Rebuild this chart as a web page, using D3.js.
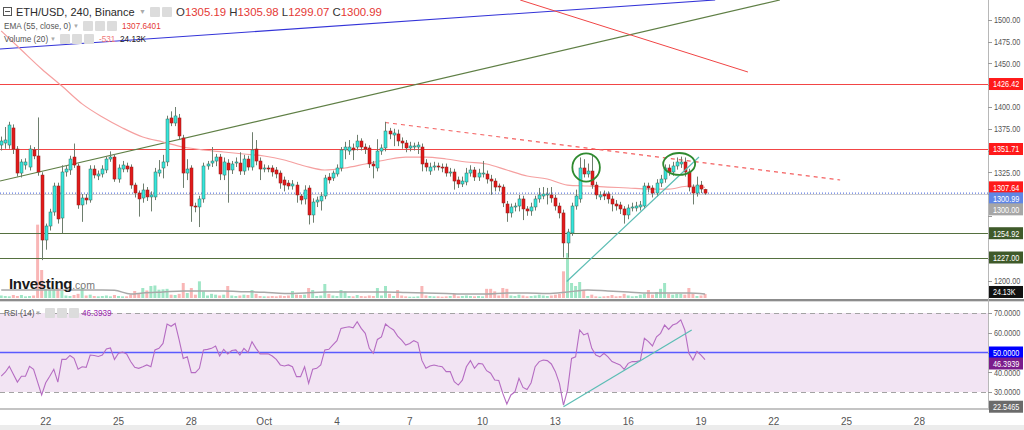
<!DOCTYPE html>
<html><head><meta charset="utf-8">
<script src="https://cdn.jsdelivr.net/npm/d3@7"></script>
<style>body{margin:0;background:#fff;}svg{display:block;font-family:"Liberation Sans",Arial,sans-serif;}</style>
</head><body><svg id="c" width="1024" height="430"></svg>
<script>
// ---------- DATA ----------
const firstCandle = "2018-09-20T04:00:00Z"; // 240-minute candles
const opens = [1356.3,1358.6,1356.3,1375.9,1351.7,1324.1,1333.3,1331.0,1350.6,1343.7,
1321.8,1247.1,1263.2,1279.3,1309.2,1272.4,1325.3,1327.6,1342.5,1332.2,
1287.4,1295.4,1293.1,1328.7,1320.7,1323.0,1327.6,1340.2,1342.5,1317.2,
1328.7,1332.2,1331.0,1310.3,1301.1,1295.4,1304.6,1296.6,1296.6,1324.1,
1329.9,1336.8,1387.4,1381.6,1387.4,1364.4,1324.1,1329.9,1286.2,1285.1,
1294.3,1332.2,1335.6,1337.9,1342.5,1321.8,1335.6,1327.6,1335.6,1335.6,
1326.4,1340.2,1331.0,1351.7,1337.9,1328.7,1329.9,1329.9,1327.6,1324.1,
1316.1,1312.6,1309.2,1310.3,1297.7,1294.3,1306.9,1275.9,1290.8,1292.0,
1297.7,1319.5,1318.4,1323.0,1329.9,1350.6,1349.4,1352.9,1354.0,1360.9,
1354.0,1352.9,1334.5,1329.9,1349.4,1352.9,1372.4,1367.8,1369.0,1360.9,
1358.6,1352.9,1354.0,1354.0,1354.0,1335.6,1326.4,1331.0,1332.2,1331.0,
1331.0,1324.1,1325.3,1316.1,1311.5,1313.8,1324.1,1327.6,1319.5,1323.0,
1323.0,1317.2,1314.9,1309.2,1308.0,1288.5,1278.2,1285.1,1286.2,1294.3,
1282.8,1280.5,1285.1,1294.3,1297.7,1298.9,1298.9,1295.4,1286.2,1278.2,
1243.7,1255.2,1286.2,1294.3,1329.9,1323.0,1326.4,1310.3,1296.6,1300.0,
1300.0,1294.3,1288.5,1287.4,1282.8,1275.9,1283.9,1283.9,1285.1,1286.2,
1309.2,1306.9,1301.1,1312.6,1317.2,1329.9,1325.3,1332.2,1334.5,1336.8,
1325.3,1308.0,1301.1,1310.3,1305.19];
const highs = [1366,1377,1383,1380,1355,1340,1341,1356,1354,1388,
1325,1266,1283,1313,1313,1333,1333,1344,1358,1335,
1300,1300,1333,1333,1327,1333,1343,1349,1346,1334,
1338,1336,1334,1313,1304,1312,1308,1303,1330,1339,
1345,1390,1395,1400,1392,1368,1340,1333,1290,1298,
1336,1338,1354,1346,1346,1342,1340,1338,1342,1348,
1345,1344,1371,1362,1342,1334,1333,1333,1331,1327,
1320,1316,1316,1314,1300,1310,1310,1295,1297,1302,
1322,1324,1327,1334,1354,1360,1362,1358,1368,1364,
1358,1356,1338,1363,1357,1383,1376,1375,1374,1365,
1362,1360,1359,1360,1358,1340,1336,1337,1336,1335,
1335,1330,1329,1320,1320,1330,1333,1331,1329,1338,
1327,1322,1318,1312,1311,1292,1289,1290,1299,1298,
1286,1290,1298,1307,1308,1307,1308,1299,1290,1282,
1260,1290,1305,1342,1340,1335,1344,1314,1303,1304,
1303,1298,1293,1291,1286,1288,1290,1291,1292,1313,
1313,1310,1317,1322,1334,1334,1337,1342,1343,1342,
1329,1311,1320,1315,1305.98];
const lows = [1350,1352,1352,1346,1320,1319,1328,1327,1340,1321,
1224,1236,1258,1275,1266,1255,1320,1322,1330,1283,
1268,1288,1290,1318,1316,1319,1324,1337,1314,1313,
1325,1325,1306,1296,1274,1290,1292,1280,1293,1320,
1318,1332,1378,1378,1362,1307,1316,1268,1279,1262,
1290,1328,1331,1332,1316,1316,1290,1323,1331,1322,
1322,1327,1327,1333,1316,1325,1325,1320,1318,1306,
1303,1305,1305,1290,1288,1288,1265,1267,1285,1281,
1294,1312,1315,1320,1326,1340,1345,1339,1350,1350,
1346,1330,1318,1326,1345,1349,1363,1355,1355,1352,
1348,1349,1350,1346,1326,1326,1322,1327,1327,1325,
1320,1320,1305,1307,1308,1310,1320,1315,1315,1319,
1312,1299,1303,1303,1285,1268,1273,1280,1280,1270,
1275,1275,1281,1290,1294,1288,1290,1281,1272,1227,
1227,1252,1282,1290,1319,1319,1306,1294,1293,1293,
1289,1280,1281,1277,1266,1271,1280,1280,1281,1283,
1302,1296,1297,1308,1313,1321,1321,1328,1330,1320,
1303,1288,1297,1301,1299.07];
const closes = [1360.9,1362.1,1379.3,1351.7,1324.1,1336.8,1336.8,1351.7,1343.7,1325.3,
1247.1,1263.2,1279.3,1309.2,1271.3,1325.3,1328.7,1340.2,1333.3,1287.4,
1295.4,1293.1,1328.7,1321.8,1323.0,1328.7,1340.2,1342.5,1317.2,1329.9,
1333.3,1328.7,1310.3,1301.1,1294.3,1304.6,1296.6,1298.9,1325.3,1327.6,
1336.8,1386.2,1381.6,1389.7,1366.7,1324.1,1328.7,1286.2,1285.1,1294.3,
1332.2,1334.5,1337.9,1342.5,1323.0,1336.8,1327.6,1334.5,1336.8,1326.4,
1340.2,1331.0,1350.6,1337.9,1328.7,1329.9,1328.7,1325.3,1323.0,1312.6,
1310.3,1309.2,1311.5,1298.9,1293.1,1304.6,1275.9,1290.8,1293.1,1297.7,
1318.4,1316.1,1324.1,1329.9,1350.6,1354.0,1354.0,1350.6,1360.9,1354.0,
1351.7,1334.5,1332.2,1349.4,1352.9,1372.4,1369.0,1370.1,1360.9,1358.6,
1352.9,1355.2,1355.2,1356.3,1334.5,1331.0,1331.0,1332.2,1331.0,1329.9,
1324.1,1325.3,1314.9,1311.5,1314.9,1324.1,1327.6,1319.5,1324.1,1324.1,
1317.2,1314.9,1308.0,1308.0,1289.7,1278.2,1285.1,1286.2,1294.3,1282.8,
1280.5,1285.1,1294.3,1298.9,1300.0,1300.0,1295.4,1286.2,1278.2,1243.7,
1256.3,1286.2,1297.7,1329.9,1323.0,1326.4,1310.3,1298.9,1298.9,1297.7,
1294.3,1288.5,1286.2,1282.8,1275.9,1283.9,1285.1,1286.2,1287.4,1309.2,
1306.9,1301.1,1312.6,1317.2,1329.9,1325.3,1332.2,1336.8,1336.8,1325.3,
1308.0,1301.1,1310.3,1305.7,1300.99];
const volumes = [15,12,10,18,12,18,10,12,15,440,
168,55,50,55,60,42,15,12,18,25,
60,15,20,12,10,12,15,10,18,12,
10,10,20,42,25,60,45,72,75,50,
52,55,20,18,25,90,30,60,20,100,
40,15,25,20,15,20,72,15,12,15,
20,18,48,25,12,10,10,12,10,15,
12,15,42,20,18,20,60,48,12,15,
84,25,15,12,48,40,12,10,18,12,
10,15,12,60,15,72,25,12,48,15,
10,8,8,10,72,15,12,10,10,8,
10,12,25,10,12,15,12,10,12,10,
55,55,40,15,60,55,15,12,20,15,
10,12,15,20,15,12,15,20,25,160,
270,90,72,96,48,12,20,10,8,10,
12,18,10,12,25,15,10,12,20,25,
48,20,36,55,90,25,20,25,25,20,
60,25,12,15,24.13];
const volMaIdx = [0,5,10,15,20,25,28,32,35,40,45,50,55,60,65,70,75,80,85,90,95,100,105,110,115,120,125,130,135,140,145,150,155,160,165,170,174];
const volMaVals = [48,48,48,48,48,48,46,24,30,36,42,42,42,38,34,27,30,36,36,36,36,33,30,27,24,24,30,30,27,36,48,42,36,30,30,30,24];
const emaIdx = [0,5,10,15,20,25,30,35,40,45,50,55,60,65,70,75,80,85,90,95,100,105,110,115,120,125,130,135,140,145,150,155,160,165,170,174];
const emaVals = [1487.4,1465.5,1443.7,1424.1,1403.6,1388.5,1375.9,1365.5,1359.8,1354.0,1350.6,1348.3,1346.0,1343.7,1339.1,1332.2,1327.6,1329.9,1334.5,1339.1,1342.5,1342.5,1340.2,1336.8,1334.5,1327.6,1320.7,1317.2,1310.3,1309.2,1308.0,1306.9,1305.7,1305.7,1309.2,1307.64];
const rsi = [38,40,43,39,35,38,38,43,41.5,35,
28.5,34.7,38,41.5,35,46.5,46.5,48.5,47,41.5,
42.8,42.5,48.7,48.5,48,48.7,51.8,52.3,46.5,49.6,
50.2,49.3,45.4,42.5,42,42.8,43.7,42.8,51.3,52.1,
54.6,64.4,63.3,64.7,56.3,47,47.8,39.8,39.8,42,
51.3,51.6,52.1,53.3,48.2,51.6,49.3,51,51.3,48.7,
52.1,50,55.5,52.1,49.3,49.3,49.3,48.2,46.5,43.7,
43.2,43.7,42.8,37.8,37.8,42.8,34.4,41.5,42,43.7,
51.3,51.6,53.8,56,62.2,62.7,63,62.5,65.6,62.2,
59.7,52.1,49.6,56.6,57.9,64.4,62.7,61.4,58.3,56.3,
53.8,54.6,56,55,46,42,43.2,43.7,43.2,42.8,
40.3,40.3,35.2,33.5,36,42.8,45.9,42,44.5,44.2,
40.8,39.5,36.1,35.8,29.3,23.9,28.5,30.1,36.9,32.3,
31.3,34.7,42.8,45.4,46.2,45.9,44.2,40.3,34.4,23.4,
31,47,47.8,61.4,58.9,59.7,52.1,48.7,47.8,49.6,
47.8,45.4,44.5,43.7,41.5,44.5,45.4,45.4,45.9,57.2,
55.5,53.3,57.9,59.7,63.9,61.7,63.9,64.7,66.5,61.4,
49.6,46.2,50.5,48.7,46.3939];
const priceTicks = [1200,1225,1250,1275,1300,1325,1350,1375,1400,1425,1450,1475,1500];
const rsiTicks = [30,40,50,60,70];
const dateTicks = ["2018-09-22","2018-09-25","2018-09-28","2018-10-01","2018-10-04","2018-10-07","2018-10-10","2018-10-13","2018-10-16","2018-10-19","2018-10-22","2018-10-25","2018-10-28"];
const dateLabels = ["22","25","28","Oct","4","7","10","13","16","19","22","25","28"];
const hLevels = [1426.42,1351.71,1300.00,1254.92,1227.00];
// drawings: [candleIndexA, priceA, candleIndexB, priceB]
const blueTrend = [-0.3,1466.7,176.5,1523.0];
const greenTrend = [-0.3,1314.9,192.5,1523.0];
const redTrend = [128.3,1523.0,184.6,1440.2];
const redDashed = [94.9,1382.2,207.4,1316.1];
const tealTrend = [139.8,1199.4,172.5,1342.5];
const rsiTrend = [139.0,22.5465,170.7,61.4];
// ellipses: [centerIndex, centerPrice, halfWidthCandles, halfHeightPrice]
const circles = [[144.6,1330.5,3.4,16.3],[167.6,1334.5,3.95,12.6]];
const emaLast = 1307.6401, volLast = "24.13K", volChange = "-531";

// ---------- LAYOUT ----------
const svg = d3.select("#c");
const plotW = 988;
const H4 = 4*3600e3;
const t0 = new Date(firstCandle).getTime();
const x = d3.scaleUtc()
  .domain([new Date(Date.UTC(2018,8,20,2,48)), new Date(Date.UTC(2018,9,30,19,48))])
  .range([0, plotW]);
const xi = i => x(new Date(t0 + i*H4));
const y = d3.scaleLinear().domain([1200,1500]).range([281,20]);
const yr = d3.scaleLinear().domain([30,70]).range([392,313]);
const yv = d3.scaleLinear().domain([0,1000]).range([298,131.3]);

const defs = svg.append("defs");
defs.append("clipPath").attr("id","cp").append("rect").attr("x",0).attr("y",0).attr("width",plotW).attr("height",299);
defs.append("clipPath").attr("id","cr").append("rect").attr("x",0).attr("y",302).attr("width",plotW).attr("height",106);

svg.append("rect").attr("width",1024).attr("height",430).attr("fill","#fff");

const P = svg.append("g").attr("clip-path","url(#cp)");
const idx = d3.range(closes.length);

// volume
P.append("g").selectAll("rect").data(idx).join("rect")
  .attr("x", i => xi(i)-1.5).attr("width",3)
  .attr("y", i => yv(volumes[i])).attr("height", i => yv(0)-yv(volumes[i]))
  .attr("fill", i => closes[i] >= opens[i] ? "#9fe6c6" : "#f9b6b6");
P.append("path").datum(volMaIdx.map((d,k)=>[d,volMaVals[k]]))
  .attr("d", d3.line().x(d=>xi(d[0])).y(d=>yv(d[1])).curve(d3.curveMonotoneX))
  .attr("fill","none").attr("stroke","#a8a8a8").attr("stroke-width",1.5);

// horizontal levels
const hColors = ["#f24545","#f24545","#cfcfcf","#55703f","#55703f"];
hLevels.forEach((v,k)=>{
  P.append("line").attr("x1",0).attr("x2",plotW).attr("y1",Math.round(y(v))+0.5).attr("y2",Math.round(y(v))+0.5)
   .attr("stroke",hColors[k]).attr("stroke-width",k>=3?1.2:1);
});
P.append("line").attr("x1",0).attr("x2",plotW).attr("y1",y(closes[closes.length-1])).attr("y2",y(closes[closes.length-1]))
  .attr("stroke","#3b5bdb").attr("stroke-width",1).attr("stroke-dasharray","1,2");

function seg(g, s, scale, color, w, dash){
  g.append("line").attr("x1",xi(s[0])).attr("y1",scale(s[1])).attr("x2",xi(s[2])).attr("y2",scale(s[3]))
   .attr("stroke",color).attr("stroke-width",w).attr("stroke-dasharray",dash||null);
}
seg(P, blueTrend, y, "#3434d8", 1.1);
seg(P, greenTrend, y, "#5f7f45", 1.2);
seg(P, redTrend, y, "#f04545", 1);
seg(P, redDashed, y, "#f46060", 1.2, "4,4");

// EMA
P.append("path").datum(emaIdx.map((d,k)=>[d,emaVals[k]]))
  .attr("d", d3.line().x(d=>xi(d[0])).y(d=>y(d[1])).curve(d3.curveMonotoneX))
  .attr("fill","none").attr("stroke","#f5a0a0").attr("stroke-width",1.2);

// candles
const C = P.append("g");
C.selectAll("line").data(idx).join("line")
  .attr("x1", i=>Math.round(xi(i))+0.5).attr("x2", i=>Math.round(xi(i))+0.5)
  .attr("y1", i=>y(highs[i])).attr("y2", i=>y(lows[i]))
  .attr("stroke","#6e7e6e").attr("stroke-width",1);
C.selectAll("rect").data(idx).join("rect")
  .attr("x", i=>Math.round(xi(i))-1).attr("width",3)
  .attr("y", i=>y(Math.max(opens[i],closes[i])))
  .attr("height", i=>Math.max(1, Math.abs(y(opens[i])-y(closes[i]))))
  .attr("fill", i=> closes[i]>=opens[i] ? "#35e6dc" : "#e21a1a")
  .attr("stroke", i=> closes[i]>=opens[i] ? "#3d6a5a" : "#8e1c1c").attr("stroke-width",0.5);

seg(P, tealTrend, y, "#5bbdb4", 1.2);
circles.forEach(c=>{
  P.append("ellipse").attr("cx",xi(c[0])).attr("cy",y(c[1]))
   .attr("rx",xi(c[0]+c[2])-xi(c[0])).attr("ry",y(c[1]-c[3])-y(c[1]))
   .attr("fill","none").attr("stroke","#2f8a2f").attr("stroke-width",1.8);
});

// Investing logo
const logo = svg.append("text").attr("x",9).attr("y",289);
logo.append("tspan").text("Investing").attr("font-size",15).attr("font-weight","bold").attr("fill","#1a1a1a").attr("letter-spacing",-0.3);
logo.append("tspan").text(".com").attr("font-size",10.5).attr("fill","#777");

// ---------- RSI PANE ----------
const R = svg.append("g").attr("clip-path","url(#cr)");
R.append("rect").attr("x",0).attr("width",plotW).attr("y",yr(70)).attr("height",yr(30)-yr(70)).attr("fill","#f2e4f3");
[70,30].forEach(v=> R.append("line").attr("x1",0).attr("x2",plotW).attr("y1",Math.round(yr(v))+0.5).attr("y2",Math.round(yr(v))+0.5)
  .attr("stroke","#a3a3a3").attr("stroke-dasharray","5,4"));
R.append("line").attr("x1",0).attr("x2",plotW).attr("y1",yr(50)).attr("y2",yr(50)).attr("stroke","#5a5aff").attr("stroke-width",1.5);
R.append("path").datum(idx).attr("d", d3.line().x(i=>xi(i)).y(i=>yr(rsi[i])))
  .attr("fill","none").attr("stroke","#b56cc2").attr("stroke-width",1.1);
seg(R, rsiTrend, yr, "#5bbdb4", 1.2);

// separators
svg.append("rect").attr("x",0).attr("y",299).attr("width",1024).attr("height",2).attr("fill","#8c8c8c");
svg.append("rect").attr("x",0).attr("y",301).attr("width",1024).attr("height",1).attr("fill","#d9d9d9");
svg.append("rect").attr("x",0).attr("y",408).attr("width",plotW).attr("height",2).attr("fill","#c4c4c4");
svg.append("rect").attr("x",0).attr("y",425).attr("width",1024).attr("height",5).attr("fill","#ececec");

// right axis
svg.append("line").attr("x1",988.5).attr("x2",988.5).attr("y1",0).attr("y2",410).attr("stroke","#b8b8b8");
const axFont = '"Liberation Sans Narrow","Liberation Sans",Arial,sans-serif';
function axText(g, xx, yy, t, fill){
  return g.append("text").attr("x",xx).attr("y",yy).attr("dy","0.35em").attr("font-size",9.5)
    .attr("font-family",axFont).attr("fill",fill)
    .attr("textLength", t.length*3.75).attr("lengthAdjust","spacingAndGlyphs").text(t);
}
function stack(list){
  list.sort((a,b)=>a.y-b.y);
  for(let k=1;k<list.length;k++) if(list[k].y < list[k-1].y+11) list[k].y = list[k-1].y+11;
  return list;
}
const priceBoxes = stack([
  {y:y(hLevels[0]), t:d3.format(".2f")(hLevels[0]), bg:"#ff1a1a"},
  {y:y(hLevels[1]), t:d3.format(".2f")(hLevels[1]), bg:"#ff1a1a"},
  {y:y(emaLast), t:d3.format(".2f")(emaLast), bg:"#ff1a1a"},
  {y:y(closes[closes.length-1]), t:d3.format(".2f")(closes[closes.length-1]), bg:"#5f86e6"},
  {y:y(hLevels[2]), t:d3.format(".2f")(hLevels[2]), bg:"#a6a6a6"},
  {y:y(hLevels[3]), t:d3.format(".2f")(hLevels[3]), bg:"#3f5a2a"},
  {y:y(hLevels[4]), t:d3.format(".2f")(hLevels[4]), bg:"#3f5a2a"},
  {y:yv(volumes[volumes.length-1])-2, t:volLast, bg:"#111"}
]);
const rsiBoxes = stack([
  {y:yr(50), t:"50.0000", bg:"#0000ff"},
  {y:yr(rsi[rsi.length-1]), t:d3.format(".4f")(rsi[rsi.length-1]), bg:"#7b1c8c"},
  {y:yr(rsiTrend[1]), t:d3.format(".4f")(rsiTrend[1]), bg:"#6b6b6b"}
]);
const allBoxes = priceBoxes.concat(rsiBoxes);
const free = yy => allBoxes.every(b => Math.abs(b.y - yy) >= 7);
const A = svg.append("g");
priceTicks.forEach(v=>{
  A.append("line").attr("x1",988).attr("x2",992).attr("y1",Math.round(y(v))+0.5).attr("y2",Math.round(y(v))+0.5).attr("stroke","#999");
  if(free(y(v))) axText(A, 994, y(v), d3.format(".2f")(v), "#555");
});
rsiTicks.forEach(v=>{
  A.append("line").attr("x1",988).attr("x2",992).attr("y1",Math.round(yr(v))+0.5).attr("y2",Math.round(yr(v))+0.5).attr("stroke","#999");
  if(free(yr(v))) axText(A, 994, yr(v), d3.format(".4f")(v), "#555");
});
allBoxes.forEach(l=>{
  svg.append("rect").attr("x",989).attr("y",l.y-6).attr("width",34).attr("height",12).attr("fill",l.bg);
  axText(svg, 993, l.y, l.t, "#fff");
});

// date axis
const T = svg.append("g").attr("font-size",10).attr("fill","#555").attr("text-anchor","middle");
dateTicks.forEach((d,k)=>{
  T.append("text").attr("x",x(new Date(d+"T00:00:00Z"))).attr("y",421).attr("dy","0.35em").text(dateLabels[k]);
});

// legends
function icons(g, xs, yTop){
  xs.forEach(xx=> g.append("rect").attr("x",xx).attr("y",yTop).attr("width",10).attr("height",10).attr("rx",1).attr("fill","#dcdcdc"));
}
const L = svg.append("g");
L.append("rect").attr("x",3.5).attr("y",7.5).attr("width",8).attr("height",8).attr("fill","#fff").attr("stroke","#555");
L.append("line").attr("x1",5).attr("x2",10).attr("y1",11.5).attr("y2",11.5).attr("stroke","#555");
L.append("text").attr("x",16).attr("y",16).attr("font-size",11).attr("fill","#2a2a2a").text("ETH/USD, 240, Binance");
L.append("text").attr("x",139).attr("y",14).attr("font-size",7).attr("fill","#aaa").text("▼");
icons(L,[150,162],7);
const ohlc = L.append("text").attr("x",176).attr("y",16).attr("font-size",11.4);
[["O",opens],["H",highs],["L",lows],["C",closes]].forEach((p,k)=>{
  ohlc.append("tspan").text((k?" ":"")+p[0]).attr("fill","#333");
  ohlc.append("tspan").text(d3.format(".2f")(p[1][p[1].length-1])).attr("fill","#e53935");
});
const fs = 8.2;
L.append("text").attr("x",4).attr("y",29).attr("font-size",fs).attr("fill","#555").text("EMA (55, close, 0)");
L.append("text").attr("x",73).attr("y",28).attr("font-size",6).attr("fill","#aaa").text("▼");
icons(L,[83,95,107],21);
L.append("text").attr("x",122).attr("y",29).attr("font-size",fs).attr("fill","#e53935").text(d3.format(".4f")(emaLast));
L.append("text").attr("x",4).attr("y",42).attr("font-size",fs).attr("fill","#555").text("Volume (20)");
L.append("text").attr("x",50).attr("y",41).attr("font-size",6).attr("fill","#aaa").text("▼");
icons(L,[60,72,84],34);
L.append("text").attr("x",99).attr("y",42).attr("font-size",fs).attr("fill","#f07878").text(volChange);
L.append("text").attr("x",120).attr("y",42).attr("font-size",fs).attr("fill","#222").text(volLast);
L.append("text").attr("x",4).attr("y",316).attr("font-size",fs).attr("fill","#555").text("RSI (14)");
L.append("text").attr("x",35).attr("y",315).attr("font-size",6).attr("fill","#aaa").text("▼");
icons(L,[45,57,69],308);
L.append("text").attr("x",82).attr("y",316).attr("font-size",fs).attr("fill","#9c27b0").text(d3.format(".4f")(rsi[rsi.length-1]));
</script></body></html>
